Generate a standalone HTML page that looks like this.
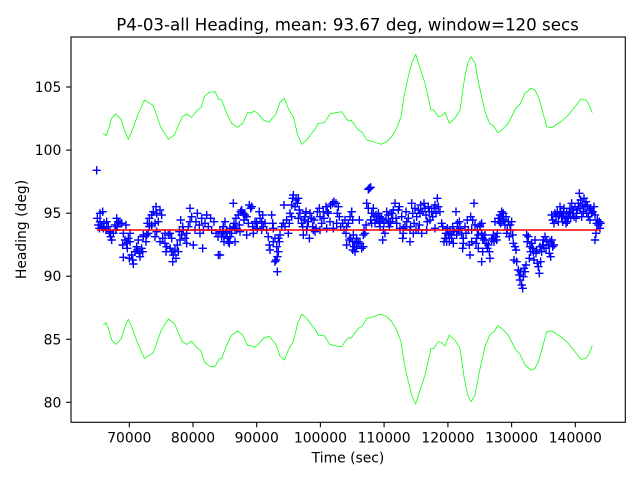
<!DOCTYPE html>
<html>
<head>
<meta charset="utf-8">
<style>
html,body{margin:0;padding:0;background:#fff;}
svg{display:block;}
text{font-family:"DejaVu Sans","Liberation Sans",sans-serif;fill:#000;}
</style>
</head>
<body>
<svg width="640" height="480" viewBox="0 0 640 480" xmlns="http://www.w3.org/2000/svg">
<defs>
<marker id="m" markerUnits="userSpaceOnUse" markerWidth="30" markerHeight="30" refX="15" refY="15" overflow="visible">
<path d="M2.5 15h25M15 2.5v25" stroke="#0000ff" stroke-width="4.2" fill="none"/>
</marker>
</defs>
<rect x="0" y="0" width="640" height="480" fill="#fff"/>

<!-- blue points -->
<g transform="translate(90,180) scale(0.33333)">
<polyline fill="none" stroke="none" marker-start="url(#m)" marker-mid="url(#m)" marker-end="url(#m)" points="20,-29 22,115 25,135 30,100 38,95 35,140 42,130 28,145 50,125 55,140 48,150 58,160 62,170 65,180 70,160 60,155 75,135 80,115 85,125 90,130 82,140 95,130 108,135 100,160 105,180 98,195 110,190 115,175 120,185 112,205 100,232 118,235 128,240 130,252 125,225 135,215 142,210 148,220 155,205 158,215 150,230 140,200 145,180 160,170 170,165 168,185 175,160 172,130 178,115 185,105 190,95 198,80 200,100 210,90 215,105 205,125 195,130 185,135 178,140 200,155 210,185 218,175 225,190 235,165 240,160 230,200 228,215 240,205 245,215 250,225 255,210 248,245 258,235 265,215 262,195 270,180 275,165 280,150 272,120 278,140 285,175 290,190 295,140 300,85 300,125 305,110 310,195 318,125 322,100 328,135 335,115 338,205 345,130 350,105 355,140 362,115 365,150 372,125 378,160 384,170 385,225 390,155 395,170 402,185 400,140 340,150 330,160 315,150 290,160 268,155 245,175 225,160 195,170 160,165 120,160 78,150 40,145 30,125"/>
</g>
<g transform="translate(220,180) scale(0.33333)">
<polyline fill="none" stroke="none" marker-start="url(#m)" marker-mid="url(#m)" marker-end="url(#m)" points="0,225 10,140 15,125 8,155 18,160 22,175 25,185 30,170 35,160 28,190 40,70 45,185 50,150 42,130 48,115 55,105 58,135 62,95 65,90 70,100 72,120 75,105 80,110 85,130 88,75 92,85 95,80 98,140 100,160 105,125 110,130 112,145 118,95 120,115 125,125 128,105 130,140 135,130 140,150 145,170 148,195 150,210 155,105 158,130 160,145 165,175 170,200 172,230 175,215 168,240 165,245 172,275 178,185 180,165 185,140 190,130 192,75 195,140 200,120 205,160 208,130 210,100 215,75 218,55 220,45 225,80 228,60 232,70 235,55 238,90 240,100 245,130 248,140 252,120 255,110 258,95 262,140 265,125 268,175 270,100 275,115 278,140 282,120 285,155 288,145 292,95 298,85 300,110 305,130 310,95 312,115 318,80 322,95 325,100 330,125 332,75 338,70 342,65 348,70 352,100 355,80 358,110 362,140 368,130 372,150 375,120 378,160 380,195 385,130 390,110 395,95 398,210 388,180 380,140 350,130 340,145 320,145 300,150 280,150 260,150 250,165 235,115 215,110 175,175 160,185 125,150 100,150 80,165 60,155 40,140 30,145 20,155 12,170 45,145"/>
</g>
<g transform="translate(350,180) scale(0.33333)">
<polyline fill="none" stroke="none" marker-start="url(#m)" marker-mid="url(#m)" marker-end="url(#m)" points="5,95 8,120 2,175 8,185 12,200 15,215 20,175 25,185 30,190 28,120 35,205 40,200 42,150 45,160 48,135 50,70 55,85 58,25 62,22 55,28 62,120 65,100 70,85 72,110 75,130 78,105 80,120 85,100 88,125 90,110 95,115 98,180 100,150 102,130 105,160 108,120 110,95 115,105 118,140 122,125 125,100 128,115 130,90 135,70 140,130 145,90 148,80 150,145 155,110 158,175 160,160 165,140 168,95 170,125 175,115 180,185 182,140 185,70 188,100 190,160 192,130 195,85 198,150 200,110 205,90 208,135 210,100 212,75 215,160 218,95 222,70 225,85 228,105 232,125 235,80 238,95 240,120 245,95 248,110 252,85 255,75 258,100 262,55 265,80 270,95 275,130 278,140 282,185 285,175 288,160 292,145 295,165 298,185 300,160 305,175 308,140 312,155 318,95 320,165 322,130 325,150 328,125 330,145 335,160 338,205 340,175 345,140 348,160 352,120 355,150 358,195 360,225 362,110 365,150 368,120 372,70 375,135 378,190 380,175 382,150 385,165 390,140 395,130 398,215 395,245 385,205 365,185 340,190 310,190 290,185 255,145 230,150 205,150 180,150 160,145 138,115 115,130 90,140 65,130 40,165 15,185 20,200 10,165"/>
</g>
<g transform="translate(480,180) scale(0.33333)">
<polyline fill="none" stroke="none" marker-start="url(#m)" marker-mid="url(#m)" marker-end="url(#m)" points="0,135 5,160 8,175 12,180 15,165 18,190 22,205 25,195 28,215 30,235 35,180 38,175 40,165 42,185 45,125 48,170 50,180 52,160 55,115 58,125 60,105 62,130 65,95 68,110 70,100 72,120 75,135 78,110 80,160 82,150 85,125 88,170 90,135 92,150 95,125 98,165 100,190 102,240 105,200 108,210 110,245 115,270 118,285 120,300 122,275 125,315 128,325 130,290 132,265 135,275 138,255 140,165 142,185 145,170 148,235 150,200 152,215 155,190 158,205 160,215 162,240 165,180 168,220 170,210 172,250 175,260 178,280 180,200 182,245 185,215 188,195 190,180 192,205 195,170 198,205 200,185 205,195 208,220 210,185 212,230 215,180 218,200 222,195 215,105 218,120 222,130 225,100 228,110 232,95 235,125 238,105 240,80 242,95 245,110 248,125 250,100 252,85 255,115 258,130 260,100 262,125 265,110 268,95 270,85 272,115 275,70 278,100 280,90 282,110 285,80 288,115 290,100 292,90 295,70 298,40 300,85 302,60 305,110 308,75 310,95 312,55 315,80 318,65 320,100 322,75 325,110 328,90 330,120 332,85 335,100 338,95 342,80 345,105 348,160 345,180 350,130 352,120 355,135 358,125 360,145 362,130"/>
</g>

<!-- mean line -->
<line x1="97" y1="230" x2="600.5" y2="230" stroke="#ff0000" stroke-width="1.4"/>

<!-- green bands -->
<polyline fill="none" stroke="#00ff00" stroke-width="0.75" stroke-linejoin="round" points="103.3,133.3 106,135.7 108.3,130 111.7,118.3 115.7,114 121,119.3 125,131.7 128.3,139.3 131.7,131.7 137.7,115 144.3,100 148.3,102.3 153.3,105.7 161,127.7 168.3,139.3 174.3,135 182.3,116.7 186.7,114 191.7,117.3 196.7,110.7 201,107.7 204.3,96.7 209.3,92.3 215,91.7 219,99.3 221.7,100 226.7,113.3 231.7,123.3 237.7,127.3 242.7,123.3 247.7,112.7 251.7,112.7 254.3,111 258.3,114 263.3,120 269,122.3 276,114 280,102.3 284.3,98.3 289,110 293.3,116.7 297.7,135 301.7,144.3 306.7,140 311.7,133.3 315,129.3 318.3,123.3 324.3,122.7 330,114 335,112.7 341.7,111.7 345,116.7 348.3,120.7 351,120 358.3,130 362.3,132.3 366.7,140 370,140.7 375,142.3 381,144.3 386.7,141.7 391.7,136.7 396.7,128.3 401,116.7 404.3,95 408.3,76.7 411.7,63.3 415.7,54.3 419,65 425,83.3 431,110 433.7,110 438.3,116.7 441.7,115.7 445,112.3 449.3,123.3 455,118.3 460,110 464.3,80 467.7,63.3 471,56.7 475,63.3 479,85 485,111.7 490,124 494.3,126.7 497.7,132.7 501.7,130 508.3,123.3 515.7,108.3 520,104.3 525,93.3 531,88.3 535,90 539,98.3 546.7,126.7 551.7,127.7 556.7,124.3 561.7,121 568.3,115 575,106.7 581,99 585.7,100 588.3,103.3 592.3,112.7"/>
<g transform="translate(0,458.4) scale(1,-1)">
<polyline fill="none" stroke="#00ff00" stroke-width="0.75" stroke-linejoin="round" points="103.3,133.3 106,135.7 108.3,130 111.7,118.3 115.7,114 121,119.3 125,131.7 128.3,139.3 131.7,131.7 137.7,115 144.3,100 148.3,102.3 153.3,105.7 161,127.7 168.3,139.3 174.3,135 182.3,116.7 186.7,114 191.7,117.3 196.7,110.7 201,107.7 204.3,96.7 209.3,92.3 215,91.7 219,99.3 221.7,100 226.7,113.3 231.7,123.3 237.7,127.3 242.7,123.3 247.7,112.7 251.7,112.7 254.3,111 258.3,114 263.3,120 269,122.3 276,114 280,102.3 284.3,98.3 289,110 293.3,116.7 297.7,135 301.7,144.3 306.7,140 311.7,133.3 315,129.3 318.3,123.3 324.3,122.7 330,114 335,112.7 341.7,111.7 345,116.7 348.3,120.7 351,120 358.3,130 362.3,132.3 366.7,140 370,140.7 375,142.3 381,144.3 386.7,141.7 391.7,136.7 396.7,128.3 401,116.7 404.3,95 408.3,76.7 411.7,63.3 415.7,54.3 419,65 425,83.3 431,110 433.7,110 438.3,116.7 441.7,115.7 445,112.3 449.3,123.3 455,118.3 460,110 464.3,80 467.7,63.3 471,56.7 475,63.3 479,85 485,111.7 490,124 494.3,126.7 497.7,132.7 501.7,130 508.3,123.3 515.7,108.3 520,104.3 525,93.3 531,88.3 535,90 539,98.3 546.7,126.7 551.7,127.7 556.7,124.3 561.7,121 568.3,115 575,106.7 581,99 585.7,100 588.3,103.3 592.3,112.7"/>
</g>

<!-- axes frame -->
<rect x="71" y="37" width="554.3" height="385.3" fill="none" stroke="#000" stroke-width="1.1"/>

<!-- x ticks -->
<g stroke="#000" stroke-width="1.1">
<line x1="129.3" y1="422.3" x2="129.3" y2="427.2"/>
<line x1="193.0" y1="422.3" x2="193.0" y2="427.2"/>
<line x1="256.7" y1="422.3" x2="256.7" y2="427.2"/>
<line x1="320.4" y1="422.3" x2="320.4" y2="427.2"/>
<line x1="384.1" y1="422.3" x2="384.1" y2="427.2"/>
<line x1="447.9" y1="422.3" x2="447.9" y2="427.2"/>
<line x1="511.6" y1="422.3" x2="511.6" y2="427.2"/>
<line x1="575.3" y1="422.3" x2="575.3" y2="427.2"/>
</g>
<g font-size="13.9" text-anchor="middle">
<text x="129.3" y="442.3">70000</text>
<text x="193.0" y="442.3">80000</text>
<text x="256.7" y="442.3">90000</text>
<text x="320.4" y="442.3">100000</text>
<text x="384.1" y="442.3">110000</text>
<text x="447.9" y="442.3">120000</text>
<text x="511.6" y="442.3">130000</text>
<text x="575.3" y="442.3">140000</text>
</g>

<!-- y ticks -->
<g stroke="#000" stroke-width="1.1">
<line x1="66.1" y1="402.3" x2="71" y2="402.3"/>
<line x1="66.1" y1="339.3" x2="71" y2="339.3"/>
<line x1="66.1" y1="276.2" x2="71" y2="276.2"/>
<line x1="66.1" y1="213.2" x2="71" y2="213.2"/>
<line x1="66.1" y1="150.1" x2="71" y2="150.1"/>
<line x1="66.1" y1="87.0" x2="71" y2="87.0"/>
</g>
<g font-size="13.9" text-anchor="end">
<text x="61.3" y="407.3">80</text>
<text x="61.3" y="344.3">85</text>
<text x="61.3" y="281.2">90</text>
<text x="61.3" y="218.2">95</text>
<text x="61.3" y="155.1">100</text>
<text x="61.3" y="92.0">105</text>
</g>

<!-- labels -->
<text x="348" y="462.5" font-size="13.9" text-anchor="middle">Time (sec)</text>
<text transform="translate(26,229.5) rotate(-90)" font-size="13.9" text-anchor="middle">Heading (deg)</text>
<text x="347.5" y="30.5" font-size="16.67" text-anchor="middle">P4-03-all Heading, mean: 93.67 deg, window=120 secs</text>
</svg>
</body>
</html>
